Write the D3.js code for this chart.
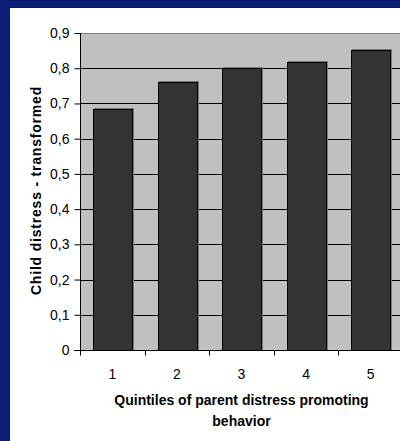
<!DOCTYPE html>
<html>
<head>
<meta charset="utf-8">
<script src="https://cdn.jsdelivr.net/npm/d3@7"></script>
<style>
  html, body { margin: 0; padding: 0; background: #0d1e78; }
  svg { display: block; }
</style>
</head>
<body>
<script>
// Chart data
const categories = ["1", "2", "3", "4", "5"];
const values = [0.683, 0.761, 0.800, 0.818, 0.852];
const yTicks = [0, 0.1, 0.2, 0.3, 0.4, 0.5, 0.6, 0.7, 0.8, 0.9];
const xTitleLines = ["Quintiles of parent distress promoting", "behavior"];
const yTitle = "Child distress - transformed";

const W = 400, H = 441;
const FONT = "'Liberation Sans', Arial, sans-serif";
const svg = d3.select("body").append("svg").attr("width", W).attr("height", H);

// Slide background and white chart panel
svg.append("rect").attr("width", W).attr("height", H).attr("fill", "#0d1e78");
svg.append("rect").attr("x", 9).attr("y", 7).attr("width", W).attr("height", H)
  .attr("fill", "#1a1a2a");
svg.append("rect").attr("x", 10).attr("y", 8).attr("width", W).attr("height", H)
  .attr("fill", "#ffffff");

const plot = { left: 80, top: 33, right: 403, bottom: 350 };

const x = d3.scaleBand().domain(categories)
  .range([plot.left, plot.right]).paddingInner(0.4).paddingOuter(0.2);
const y = d3.scaleLinear().domain([0, 0.9]).range([plot.bottom, plot.top]);

// Plot area
svg.append("rect")
  .attr("x", plot.left).attr("y", plot.top)
  .attr("width", plot.right - plot.left).attr("height", plot.bottom - plot.top)
  .attr("fill", "#c0c0c0");
svg.append("line")
  .attr("x1", plot.left).attr("x2", plot.right)
  .attr("y1", plot.top + 0.5).attr("y2", plot.top + 0.5)
  .attr("stroke", "#808080").attr("stroke-width", 1);

// Gridlines
svg.append("g").selectAll("line")
  .data(yTicks.filter(t => t > 0 && t < 0.9))
  .join("line")
  .attr("x1", plot.left).attr("x2", plot.right)
  .attr("y1", d => Math.round(y(d)) + 0.5).attr("y2", d => Math.round(y(d)) + 0.5)
  .attr("stroke", "#000").attr("stroke-width", 1);

// Bars with a faint shadow
const bars = svg.append("g");
bars.selectAll("rect.shadow").data(values).join("rect")
  .attr("class", "shadow")
  .attr("x", (d, i) => Math.round(x(categories[i])) + 1.5)
  .attr("y", d => Math.round(y(d)) - 0.5)
  .attr("width", Math.round(x.bandwidth()))
  .attr("height", d => plot.bottom - Math.round(y(d)))
  .attr("fill", "none").attr("stroke", "#7a7a7a").attr("stroke-width", 1);
bars.selectAll("rect.bar").data(values).join("rect")
  .attr("class", "bar")
  .attr("x", (d, i) => Math.round(x(categories[i])) + 0.5)
  .attr("y", d => Math.round(y(d)) + 0.5)
  .attr("width", Math.round(x.bandwidth()))
  .attr("height", d => plot.bottom - Math.round(y(d)))
  .attr("fill", "#333333").attr("stroke", "#000").attr("stroke-width", 1);

// Y axis
const yAxis = d3.axisLeft(y).tickValues(yTicks)
  .tickSize(6).tickSizeOuter(0)
  .tickFormat(d => d === 0 ? "0" : d3.format(".1f")(d).replace(".", ","));
const gy = svg.append("g").attr("transform", `translate(${plot.left + 0.5},0)`).call(yAxis);
gy.select(".domain").attr("stroke", "#000").attr("d", `M0,${plot.top}V${plot.bottom + 4}`);
gy.selectAll(".tick line").attr("stroke", "#000");
gy.selectAll(".tick text")
  .attr("x", -11)
  .attr("font-family", FONT)
  .attr("font-size", 14).attr("fill", "#000");

// X axis
const xAxis = d3.axisBottom(x).tickSize(0).tickSizeOuter(0);
const gx = svg.append("g").attr("transform", `translate(0,${plot.bottom + 0.5})`).call(xAxis);
gx.select(".domain").attr("stroke", "#000").attr("d", `M${plot.left - 6},0H${plot.right}`);
gx.selectAll(".tick text")
  .attr("dy", 0).attr("y", 28)
  .attr("font-family", FONT)
  .attr("font-size", 14).attr("fill", "#000");

// Tick marks between categories
const edges = d3.range(categories.length + 1).map(i => plot.left + i * (plot.right - plot.left) / categories.length);
gx.append("g").selectAll("line").data(edges).join("line")
  .attr("x1", d => Math.round(d) + 0.5).attr("x2", d => Math.round(d) + 0.5)
  .attr("y1", 0).attr("y2", 5)
  .attr("stroke", "#000");

// Axis titles
const cx = (plot.left + plot.right) / 2;
svg.append("text")
  .attr("font-family", FONT)
  .attr("font-size", 14).attr("font-weight", "bold").attr("fill", "#000")
  .attr("text-anchor", "middle")
  .selectAll("tspan").data(xTitleLines).join("tspan")
  .attr("x", cx).attr("y", (d, i) => 405 + i * 21)
  .text(d => d);

svg.append("text")
  .attr("transform", `translate(41,${(plot.top + plot.bottom) / 2 - 1}) rotate(-90)`)
  .attr("font-family", FONT)
  .attr("font-size", 14).attr("font-weight", "bold").attr("fill", "#000")
  .attr("letter-spacing", 0.8)
  .attr("text-anchor", "middle")
  .text(yTitle);
</script>
</body>
</html>
